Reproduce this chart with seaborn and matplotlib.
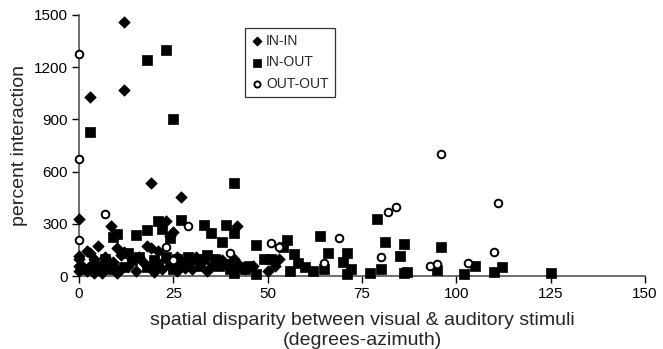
import matplotlib
matplotlib.use("Agg")
import matplotlib.pyplot as plt
import seaborn as sns
import pandas as pd

# ---- data ----
inin_x = [12, 12, 3, 19, 27, 0, 8.5, 23, 42, 25, 24, 5, 2, 10, 18, 19, 21, 12, 3, 0, 0, 4, 7, 14,
          16, 26, 30, 32, 41, 42, 53, 52, 50, 46, 36, 35, 34, 30, 28, 22, 20, 19, 17, 13, 11, 9, 7,
          6, 5, 3, 2, 1, 0, 0, 4, 10, 15, 24, 26, 29, 38, 40, 44, 31, 23, 20, 11, 8]
inin_y = [1460, 1070, 1030, 535, 455, 330, 290, 315, 290, 255, 230, 175, 145, 160, 175, 160, 145, 140,
          130, 115, 100, 95, 110, 100, 110, 110, 100, 90, 95, 75, 100, 60, 30, 60, 70, 50, 30, 40, 45,
          40, 25, 60, 80, 60, 40, 80, 40, 20, 40, 60, 30, 50, 30, 60, 20, 20, 30, 60, 30, 70, 90, 60,
          40, 110, 100, 80, 120, 60]

inout_x = [23, 18, 25, 3, 41, 79, 27, 21, 33, 39, 22, 18, 35, 41, 10, 15, 9, 24, 64, 38, 55, 81, 86,
           47, 54, 96, 66, 71, 57, 85, 49, 51, 70, 58, 65, 80, 95, 102, 110, 112, 125, 105, 86, 87,
           77, 71, 72, 62, 60, 56, 47, 44, 40, 41, 37, 34, 33, 29, 27, 25, 23, 21, 18, 16, 14, 12,
           9, 7, 5, 1, 13, 20, 26, 30, 32, 36, 39, 43, 45]
inout_y = [1300, 1240, 900, 830, 535, 330, 320, 315, 295, 295, 270, 265, 250, 245, 240, 235, 225, 220,
           230, 195, 205, 195, 185, 180, 165, 165, 130, 135, 125, 115, 100, 100, 80, 75, 40, 40, 35,
           10, 25, 50, 20, 60, 15, 25, 15, 10, 40, 30, 50, 30, 10, 40, 40, 20, 60, 120, 100, 110, 75,
           40, 110, 70, 50, 110, 90, 50, 40, 100, 60, 40, 130, 90, 100, 100, 60, 100, 70, 50, 60]

outout_x = [0, 0, 0, 7, 29, 23, 40, 51, 69, 80, 82, 84, 96, 111, 110, 103, 93, 95, 65, 53, 25]
outout_y = [1275, 670, 205, 355, 285, 165, 135, 190, 220, 110, 365, 395, 700, 420, 140, 75, 60, 70,
            75, 165, 90]

x_ticks = [0, 25, 50, 75, 100, 125, 150]
y_ticks = [0, 300, 600, 900, 1200, 1500]

sns.set_theme(style="ticks")
plt.rcParams["font.family"] = ["Liberation Sans", "DejaVu Sans"]

fig = plt.figure(figsize=(6.63, 3.49), dpi=100)
ax = fig.add_axes([79 / 663, 1 - 276 / 349, 566 / 663, 261 / 349])

df_inin = pd.DataFrame({"x": inin_x, "y": inin_y})
df_inout = pd.DataFrame({"x": inout_x, "y": inout_y})
df_outout = pd.DataFrame({"x": outout_x, "y": outout_y})

sns.scatterplot(data=df_inin, x="x", y="y", marker="D", s=34, color="black",
                edgecolor="black", linewidth=0.5, label="IN-IN", ax=ax, clip_on=False, zorder=3)
sns.scatterplot(data=df_inout, x="x", y="y", marker="s", s=50, color="black",
                edgecolor="black", linewidth=0.5, label="IN-OUT", ax=ax, clip_on=False, zorder=3)
sns.scatterplot(data=df_outout, x="x", y="y", marker="o", s=30, facecolor="white",
                edgecolor="black", linewidth=1.4, label="OUT-OUT", ax=ax, clip_on=False, zorder=4)

ax.set_xlim(0, 150)
ax.set_ylim(0, 1500)
ax.set_xticks(x_ticks)
ax.set_yticks(y_ticks)
ax.set_xticklabels([str(t) for t in x_ticks])
ax.set_yticklabels([str(t) for t in y_ticks])
ax.tick_params(direction="out", length=5, width=1, colors="black", labelsize=11, pad=3)
for side in ["top", "right"]:
    ax.spines[side].set_visible(False)
for side in ["left", "bottom"]:
    ax.spines[side].set_color("#555555")
    ax.spines[side].set_linewidth(1.2)

ax.set_xlabel("spatial disparity between visual & auditory stimuli\n(degrees-azimuth)",
              fontsize=14, labelpad=8, linespacing=1.2)
ax.set_ylabel("percent interaction", fontsize=14, labelpad=4)

leg = ax.legend(loc="upper left", bbox_to_anchor=(0.294, 0.952), frameon=True, fancybox=False,
                fontsize=10, handlelength=0.7, handletextpad=0.35, labelspacing=0.55,
                borderpad=0.45, borderaxespad=0.0, markerscale=0.8)
leg.get_frame().set_edgecolor("black")
leg.get_frame().set_linewidth(0.9)

fig.savefig("out.png", dpi=100)
